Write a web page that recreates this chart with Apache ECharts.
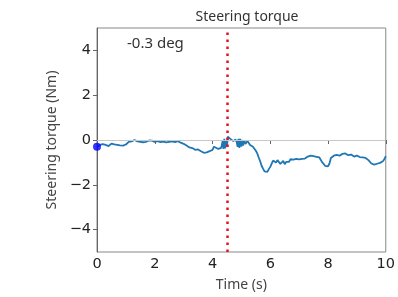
<!DOCTYPE html>
<html>
<head>
<meta charset="utf-8">
<script src="https://cdn.jsdelivr.net/npm/echarts@6/dist/echarts.min.js"></script>
<style>html,body{margin:0;padding:0;background:#fff}#c{width:398px;height:297px}</style>
</head>
<body>
<div id="c"></div>
<script>
const times = [0.00,0.05,0.10,0.15,0.20,0.25,0.30,0.35,0.40,0.45,0.50,0.55,0.60,0.65,0.70,0.75,0.80,0.85,0.90,0.95,
1.00,1.05,1.10,1.15,1.20,1.25,1.30,1.35,1.40,1.45,1.50,1.55,1.60,1.65,1.70,1.75,1.80,1.85,1.90,1.95,
2.00,2.10,2.20,2.30,2.40,2.50,2.60,2.70,2.80,2.90,3.00,3.10,3.20,3.30,3.40,3.50,3.60,3.70,3.75,3.80,3.90,
4.00,4.05,4.10,4.20,4.30,4.35,4.38,4.41,4.44,4.47,4.50,4.53,4.57,4.62,4.68,4.72,4.76,4.80,4.84,4.87,4.90,4.93,4.96,
5.00,5.03,5.06,5.10,5.15,5.20,5.25,5.30,5.35,5.40,5.45,5.50,5.55,5.60,5.65,5.70,5.75,5.80,5.85,5.90,5.95,
6.00,6.05,6.10,6.15,6.20,6.25,6.30,6.35,6.40,6.45,6.50,6.55,6.60,6.65,6.70,6.75,6.80,6.85,6.90,6.95,
7.00,7.05,7.10,7.15,7.20,7.25,7.30,7.35,7.40,7.45,7.50,7.55,7.60,7.65,7.70,7.75,7.80,7.85,7.90,7.95,
8.00,8.05,8.10,8.15,8.20,8.25,8.30,8.35,8.40,8.45,8.50,8.55,8.60,8.65,8.70,8.75,8.80,8.85,8.90,8.95,
9.00,9.05,9.10,9.15,9.20,9.25,9.30,9.35,9.40,9.45,9.50,9.55,9.60,9.65,9.70,9.75,9.80,9.85,9.90,9.95,10.00];
const torque = [-0.30,-0.25,-0.22,-0.28,-0.18,-0.14,-0.22,-0.30,-0.27,-0.20,-0.16,-0.14,-0.20,-0.17,-0.22,-0.18,-0.24,-0.27,-0.25,-0.18,
-0.20,-0.12,-0.08,-0.10,-0.06,-0.10,0.00,-0.02,-0.06,0.02,-0.08,-0.12,-0.10,-0.05,-0.08,-0.04,-0.02,-0.05,-0.03,-0.06,
-0.08,-0.05,-0.09,-0.07,-0.11,-0.08,-0.06,-0.09,-0.05,-0.12,-0.17,-0.25,-0.33,-0.36,-0.44,-0.42,-0.50,-0.57,-0.60,-0.55,-0.50,
-0.44,-0.30,-0.38,-0.40,-0.35,-0.05,-0.40,0.05,-0.38,-0.02,-0.30,0.15,0.20,0.05,0.10,-0.05,-0.08,0.02,-0.10,-0.30,0.05,-0.35,0.05,
-0.30,0.00,-0.25,-0.05,-0.18,-0.02,-0.10,-0.22,-0.15,-0.30,-0.38,-0.48,-0.60,-0.78,-0.95,-1.15,-1.28,-1.40,-1.48,-1.42,-1.30,
-1.20,-1.05,-0.92,-0.84,-1.00,-0.90,-0.98,-1.07,-1.00,-0.93,-1.08,-0.98,-0.92,-0.97,-0.86,-0.92,-0.88,-0.93,-0.84,-0.90,
-0.87,-0.80,-0.84,-0.78,-0.83,-0.76,-0.74,-0.79,-0.70,-0.66,-0.72,-0.68,-0.75,-0.72,-0.78,-0.84,-1.00,-1.06,-1.15,-1.12,
-1.18,-1.05,-0.80,-0.74,-0.70,-0.73,-0.66,-0.71,-0.70,-0.64,-0.62,-0.66,-0.60,-0.65,-0.68,-0.63,-0.65,-0.70,-0.74,-0.69,
-0.70,-0.73,-0.76,-0.72,-0.78,-0.75,-0.80,-0.84,-0.90,-0.98,-1.05,-1.08,-1.10,-1.05,-1.06,-1.03,-1.02,-0.98,-0.95,-0.86,-0.72];
const yTicks = [-4,-2,0,2,4];
const eventTime = 4.52;
const startPoint = [0, -0.3];
const annotation = '-0.3 deg';

const chart = echarts.init(document.getElementById('c'));
chart.setOption({
  animation: false,
  title: {text: 'Steering torque', left: 242, top: 5, textAlign: 'center',
    textStyle: {fontFamily: 'Noto Sans', fontSize: 14, fontWeight: 'normal', color: '#333'}},
  grid: {left: 97, right: 11, top: 28, bottom: 44.5, show: true, borderColor: '#888', borderWidth: 1},
  graphic: [{type: 'text', left: 127, top: 36, style: {text: annotation, fontFamily: 'Noto Sans', fontSize: 15, fill: '#333'}}],
  xAxis: {type: 'value', min: 0, max: 10, interval: 2,
    name: 'Time (s)', nameLocation: 'middle', nameGap: 26,
    nameTextStyle: {fontFamily: 'Noto Sans', fontSize: 14, color: '#444'},
    axisLine: {lineStyle: {color: '#666'}},
    axisTick: {show: true, length: 4, lineStyle: {color: '#666'}},
    axisLabel: {fontFamily: 'DejaVu Sans', fontSize: 14.5, color: '#222', margin: 5},
    splitLine: {show: false}},
  yAxis: {type: 'value', min: -5, max: 5,
    name: 'Steering torque (Nm)', nameLocation: 'middle', nameGap: 36,
    nameTextStyle: {fontFamily: 'Noto Sans', fontSize: 14, color: '#444'},
    axisLine: {show: true, lineStyle: {color: '#666'}},
    axisTick: {show: true, length: 4, customValues: yTicks, lineStyle: {color: '#666'}},
    axisLabel: {fontFamily: 'DejaVu Sans', fontSize: 14.5, color: '#222', margin: 6, customValues: yTicks,
      formatter: v => (v < 0 ? '\u2212' + Math.abs(v) : String(v))},
    splitLine: {show: false}},
  series: [
    {type: 'line', data: times.map((t, i) => [t, torque[i]]), showSymbol: false,
      lineStyle: {color: '#1f77b4', width: 1.8}, z: 3,
      markLine: {silent: true, symbol: 'none', label: {show: false}, animation: false,
        data: [
          {yAxis: 0, lineStyle: {color: '#c8c8c8', width: 1, type: 'solid'}},
          {xAxis: eventTime, lineStyle: {color: '#e8101c', width: 2.5, type: [2.5, 4.5]}}
        ]}},
    {type: 'scatter', data: [startPoint], symbolSize: 8, itemStyle: {color: '#0000ff'}, z: 4}
  ]
});
</script>
</body>
</html>
